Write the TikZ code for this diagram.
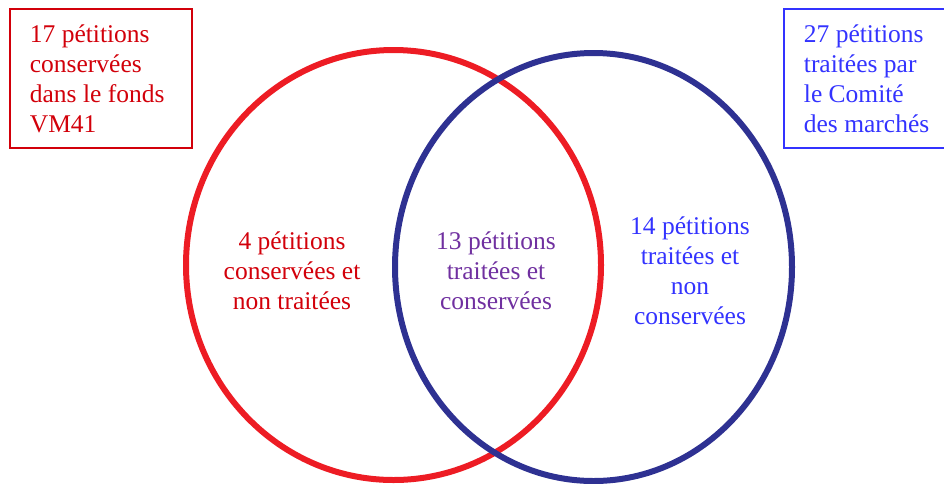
\documentclass[tikz,border=0pt]{standalone}
\usepackage{fontspec}
\setmainfont{Liberation Serif}
\usetikzlibrary{shapes.geometric}
\definecolor{ringred}{RGB}{237,28,36}
\definecolor{ringblue}{RGB}{46,49,146}
\definecolor{txtred}{RGB}{210,0,10}
\definecolor{txtblue}{RGB}{51,51,255}
\definecolor{txtpurple}{RGB}{112,48,160}
\tikzset{
  ring/.style={ellipse, draw, line width=6pt, inner sep=0pt, outer sep=0pt},
  lbl/.style={align=center, font=\fontsize{25.5}{30}\selectfont},
  infobox/.style={draw, line width=1.8pt, anchor=north west, align=flush left,
    inner xsep=20pt, inner ysep=0pt, minimum height=139pt,
    font=\fontsize{25.5}{30}\selectfont}
}
\begin{document}
\begin{tikzpicture}[x=1pt,y=-1pt]
\useasboundingbox (0,0) rectangle (944,483);
\clip (0,0) rectangle (944,483);
\node[ring, draw=ringred, minimum width=415pt, minimum height=430pt] (R) at (393.5,265) {};
\node[ring, draw=ringblue, minimum width=397pt, minimum height=428pt] (B) at (593.5,267) {};
\node[infobox, draw=txtred, text=txtred, text width=142pt] (boxR) at (9,8)
  {17 pétitions\\conservées\\dans le fonds\\VM41};
\node[infobox, draw=txtblue, text=txtblue, text width=170pt] (boxB) at (783,8)
  {27 pétitions\\traitées par\\le Comité\\des marchés};
\node[lbl, text=txtred] (t1) at (292,271) {4 pétitions\\conservées et\\non traitées};
\node[lbl, text=txtpurple] (t2) at (496,271) {13 pétitions\\traitées et\\conservées};
\node[lbl, text=txtblue] (t3) at (690,271) {14 pétitions\\traitées et\\non\\conservées};
\end{tikzpicture}
\end{document}
